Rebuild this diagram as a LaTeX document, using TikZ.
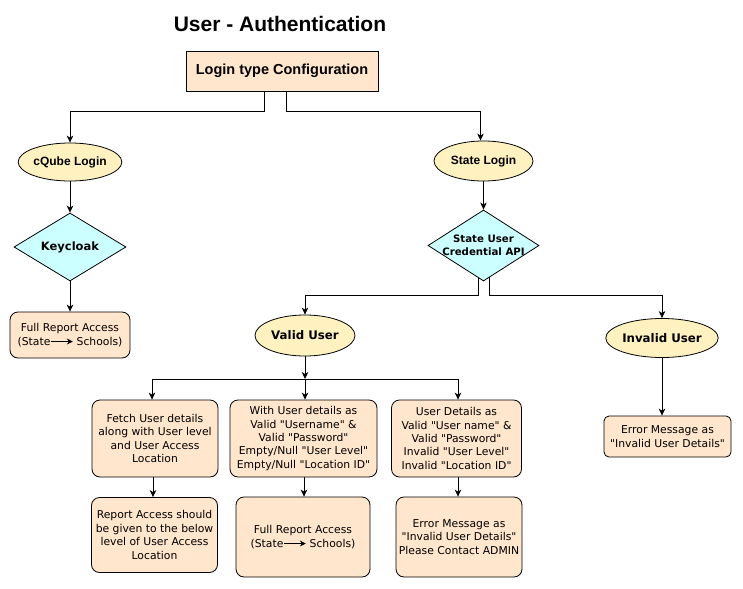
\documentclass[tikz,border=0pt]{standalone}
\usepackage{fontspec}
\setmainfont{Liberation Sans}
\newfontfamily\dejavu{DejaVu Sans}
\usetikzlibrary{shapes.geometric,arrows.meta,calc,backgrounds}
\definecolor{peach}{HTML}{FFE6CC}
\definecolor{pale}{HTML}{FFF2C0}
\definecolor{cyanl}{HTML}{CCFFFF}
\newcommand\myarrow{\tikz[baseline=-0.6ex]\draw[line width=0.8pt,-{Stealth[length=6pt,width=6pt]}] (0pt,0pt) -- (22pt,0pt);}
\begin{document}
\begin{tikzpicture}[x=1pt,y=-1pt,
  arr/.style={draw, line width=0.9pt, -{Stealth[length=7pt,width=6.5pt,inset=2pt]}},
  ln/.style={draw, line width=0.9pt},
  wh/.style 2 args={minimum width=#1, minimum height=#2},
  box/.style={draw, line width=0.8pt, fill=peach, rounded corners=8pt, align=center, inner sep=0pt, font=\dejavu\fontsize{10.8}{13.4}\selectfont},
  ell/.style={ellipse, draw, line width=0.8pt, fill=pale, inner sep=0pt, align=center},
  dia/.style={diamond, draw, line width=0.8pt, fill=cyanl, inner sep=0pt},
  boldarial/.style={font=\bfseries\fontsize{12}{14}\selectfont},
  boldverd/.style={font=\dejavu\bfseries\fontsize{11.8}{13}\selectfont}
]
\node[font=\bfseries\fontsize{21}{24}\selectfont] (title) at (280,24) {User - Authentication};
\node[draw, fill=peach, line width=0.8pt, wh={192pt}{40pt}, font=\bfseries\fontsize{14.5}{17}\selectfont] (cfg) at (282,71) {Login type Configuration};
\node[ell, wh={97pt}{38pt}, boldarial] (cqube) at (70,162) {cQube Login};
\node[dia, wh={112pt}{68pt}, label={[font=\dejavu\bfseries\fontsize{11.5}{13}\selectfont]center:Keycloak}] (key) at (70,247) {};
\node[box, wh={120pt}{46pt}] (full1) at (70,335) {Full Report Access\\(State\myarrow\ Schools)};
\node[ell, wh={99pt}{40pt}, boldarial] (state) at (483.5,161) {State Login};
\node[dia, wh={111pt}{71pt}, label={[font=\dejavu\bfseries\fontsize{10.2}{12.5}\selectfont, align=center]center:State User\\Credential API}] (api) at (483.5,245.5) {};
\node[ell, wh={100pt}{41pt}, boldverd] (valid) at (305,335.5) {Valid User};
\node[ell, wh={98pt}{39pt}, boldverd] (invalid) at (662,338) {Invalid User};
\node[box, rounded corners=5pt, wh={127pt}{41pt}] (err1) at (667.5,436.5) {Error Message as\\"Invalid User Details"};
\node[box, wh={126pt}{77pt}] (b1) at (155,438.5) {Fetch User details\\along with User level\\and User Access\\Location};
\node[box, wh={147pt}{77pt}] (b2) at (303.5,438.5) {With User details as\\Valid "Username" \&\\Valid "Password"\\Empty/Null "User Level"\\Empty/Null "Location ID"};
\node[box, wh={130pt}{77pt}] (b3) at (456.5,438.5) {User Details as\\Valid "User name" \&\\Valid "Password"\\Invalid "User Level"\\Invalid "Location ID"};
\node[box, wh={126pt}{75pt}] (c1) at (154.5,535) {Report Access should\\be given to the below\\level of User Access\\Location};
\node[box, wh={134pt}{80pt}] (c2) at (303,537) {Full Report Access\\(State\myarrow\ Schools)};
\node[box, wh={126pt}{80pt}] (c3) at (459,537) {Error Message as\\"Invalid User Details"\\Please Contact ADMIN};
\coordinate (jv) at (305,379);
\begin{scope}[on background layer]
\fill[white] (0,0) rectangle (743,588);
\draw[arr] ($(cfg.south)+(-18,0)$) -- ++(0,20) -| (cqube.north);
\draw[arr] ($(cfg.south)+(4,0)$) -- ++(0,20) -| ($(state.north)+(-3,0)$);
\draw[arr] (cqube) -- (key);
\draw[arr] (key) -- (full1);
\draw[arr] (state) -- (api);
\draw[arr] ($(api.center)+(-5,0)$) -- ++(0,49.5) -| (valid.north);
\draw[arr] ($(api.center)+(6,0)$) -- ++(0,49.5) -| (invalid.north);
\draw[arr] (invalid) -- (invalid |- err1.north);
\draw[arr] (valid) -- (jv);
\draw[ln] (jv -| 152,0) -- (jv -| 458,0);
\draw[arr] (jv -| 152,0) -- (b1.north -| 152,0);
\draw[arr] (jv) -- (jv |- b2.north);
\draw[arr] (jv -| 458,0) -- (b3.north -| 458,0);
\draw[arr] (b1.south -| 153,0) -- (c1.north -| 153,0);
\draw[arr] (b2.south -| 304,0) -- (c2.north -| 304,0);
\draw[arr] (b3.south -| 458,0) -- (c3.north -| 458,0);
\end{scope}
\useasboundingbox (0,0) rectangle (743,588);
\end{tikzpicture}
\end{document}
